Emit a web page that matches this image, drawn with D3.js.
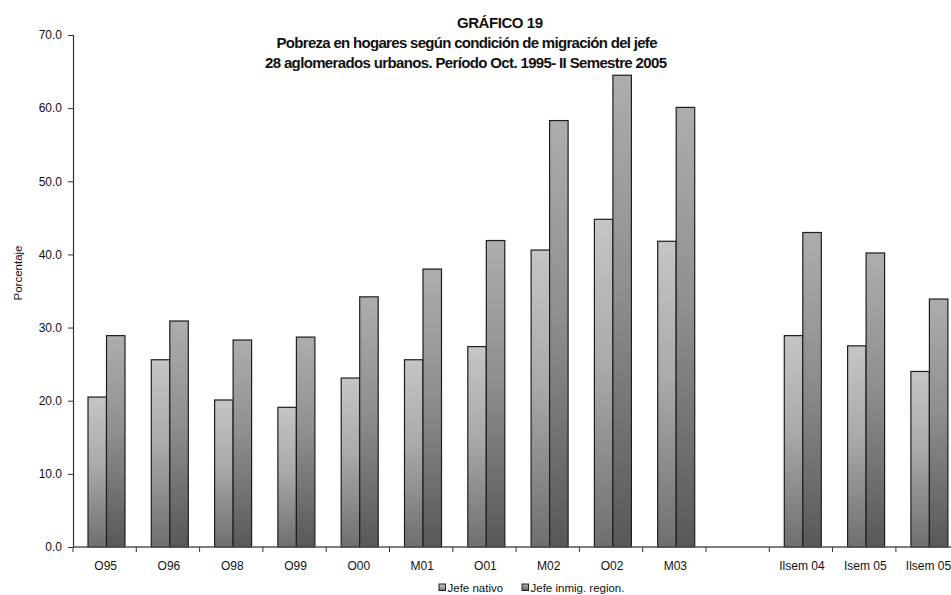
<!DOCTYPE html>
<html>
<head>
<meta charset="utf-8">
<script src="https://cdn.jsdelivr.net/npm/d3@7/dist/d3.min.js"></script>
<style>
  html, body { margin: 0; padding: 0; background: #fff; }
  svg { display: block; font-family: Arial, "Liberation Sans", sans-serif; }
</style>
</head>
<body>
<svg id="chart" width="951" height="595"></svg>
<script>
// Periods (the empty slot keeps the gap between M03 and the 2004 semester)
const categories = ["O95", "O96", "O98", "O99", "O00", "M01", "O01", "M02", "O02", "M03", " ", "Ilsem 04", "Isem 05", "Ilsem 05 "];
const tickLabels = ["O95", "O96", "O98", "O99", "O00", "M01", "O01", "M02", "O02", "M03", "", "Ilsem 04", "Isem 05", "Ilsem 05"];
// Poverty rate (%) by migration condition of the household head
const jefeNativo = [20.5, 25.6, 20.1, 19.1, 23.1, 25.6, 27.4, 40.6, 44.8, 41.8, null, 28.9, 27.5, 24.0];
const jefeInmig  = [28.9, 30.9, 28.3, 28.7, 34.2, 38.0, 41.9, 58.3, 64.5, 60.1, null, 43.0, 40.2, 33.9];
const seriesNames = ["Jefe nativo", "Jefe inmig. region."];
const yTicks = [0, 10, 20, 30, 40, 50, 60, 70];
const titleLines = [
  "GRÁFICO 19",
  "Pobreza en hogares según condición de migración del jefe",
  "28 aglomerados urbanos. Período Oct. 1995- II Semestre 2005"
];

const svg = d3.select("#chart");

// Gradients for the two series
const defs = svg.append("defs");
const gradSpecs = [
  { id: "g0", stops: [[0, "#c4c5c4"], [0.45, "#aaaaaa"], [1, "#6f6f6f"]] },
  { id: "g1", stops: [[0, "#adadad"], [0.45, "#8f8f8f"], [1, "#585858"]] }
];
gradSpecs.forEach(g => {
  const lg = defs.append("linearGradient").attr("id", g.id)
    .attr("x1", 0).attr("y1", 0).attr("x2", 0).attr("y2", 1);
  g.stops.forEach(s => lg.append("stop").attr("offset", s[0]).attr("stop-color", s[1]));
});

const plotLeft = 73, plotTop = 35, plotBottom = 547, band = 63.3;
const x = d3.scaleBand().domain(categories).range([plotLeft, plotLeft + band * categories.length]).padding(0);
const xInner = d3.scaleBand().domain([0, 1]).range([15, 52]).padding(0);
const y = d3.scaleLinear().domain([0, 70]).range([plotBottom, plotTop]);

const rows = categories.map((c, i) => ({ cat: c, vals: [jefeNativo[i], jefeInmig[i]] }));

// Bars
const groups = svg.append("g").selectAll("g").data(rows).join("g")
  .attr("transform", d => `translate(${x(d.cat)},0)`);
groups.selectAll("rect")
  .data(d => d.vals.map((v, k) => ({ v, k })).filter(o => o.v != null))
  .join("rect")
  .attr("x", o => xInner(o.k))
  .attr("width", xInner.bandwidth())
  .attr("y", o => y(o.v))
  .attr("height", o => y(0) - y(o.v))
  .attr("fill", o => `url(#g${o.k})`)
  .attr("stroke", "#1e1e1e")
  .attr("stroke-width", 1.2);

// Y axis
const yAxis = svg.append("g").attr("transform", `translate(${plotLeft},0)`)
  .call(d3.axisLeft(y).tickValues(yTicks).tickFormat(d3.format(".1f")).tickSize(5).tickPadding(6));
yAxis.select(".domain").attr("stroke", "#333").attr("stroke-width", 1.2);
yAxis.selectAll(".tick line").attr("stroke", "#333");
yAxis.selectAll(".tick text").attr("font-size", 12).attr("fill", "#111")
  .attr("font-family", "Arial, 'Liberation Sans', sans-serif");

// X axis: ticks sit on the band boundaries
const xAxisG = svg.append("g").attr("transform", `translate(0,${plotBottom})`);
xAxisG.append("line")
  .attr("x1", plotLeft).attr("x2", x.range()[1])
  .attr("stroke", "#555").attr("stroke-width", 1.5);
xAxisG.selectAll("line.tk").data(categories).join("line").attr("class", "tk")
  .attr("x1", d => x(d)).attr("x2", d => x(d))
  .attr("y1", 0).attr("y2", 5).attr("stroke", "#333");
xAxisG.selectAll("text").data(categories).join("text")
  .attr("x", d => x(d) + band / 2 + 1)
  .attr("y", 23)
  .attr("text-anchor", "middle")
  .attr("font-size", 12).attr("fill", "#111")
  .text((d, i) => tickLabels[i]);

// Y axis title
svg.append("text")
  .attr("transform", "translate(22,273) rotate(-90)")
  .attr("text-anchor", "middle")
  .attr("font-size", 11.5).attr("fill", "#111")
  .text("Porcentaje");

// Title
const titleY = [28, 48, 68];
const titleX = [500, 467, 466];
const titleW = [86, 381, 402];
titleLines.forEach((t, i) => {
  svg.append("text")
    .attr("x", titleX[i]).attr("y", titleY[i])
    .attr("text-anchor", "middle")
    .attr("font-size", 15).attr("font-weight", "bold").attr("fill", "#111")
    .attr("textLength", titleW[i]).attr("lengthAdjust", "spacing")
    .text(t);
});

// Legend
const legendX = [439, 522];
const legend = svg.append("g").selectAll("g").data(seriesNames).join("g")
  .attr("transform", (d, i) => `translate(${legendX[i]},584)`);
legend.append("rect")
  .attr("width", 6.5).attr("height", 6.5)
  .attr("fill", (d, i) => `url(#g${i})`)
  .attr("stroke", "#222").attr("stroke-width", 1);
legend.append("text")
  .attr("x", 8.5).attr("y", 7.5)
  .attr("font-size", 11.5).attr("fill", "#111")
  .text(d => d);
</script>
</body>
</html>
